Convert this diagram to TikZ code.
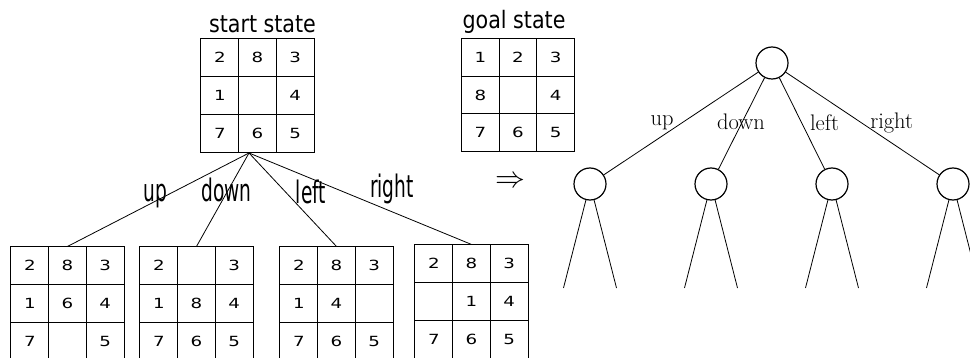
\documentclass[tikz,border=0pt]{standalone}
\usepackage{fontspec}
\usetikzlibrary{matrix}
\newfontfamily\cellfont[FakeStretch=1.3]{DejaVu Sans}
\newfontfamily\titlefont[FakeStretch=0.86]{DejaVu Sans}
\newfontfamily\movefont[FakeStretch=0.6]{DejaVu Sans}

\tikzset{
  puzzle/.style={matrix of nodes, nodes in empty cells,
    inner sep=0pt, outer sep=0pt, column sep=-1pt, row sep=-1pt,
    nodes={draw, line width=1pt, minimum width=37.7pt, minimum height=37.7pt,
      inner sep=0pt, anchor=center, font=\cellfont\fontsize{14pt}{14pt}\selectfont}},
  title/.style={anchor=base, inner sep=0pt, font=\titlefont\fontsize{24pt}{26pt}\selectfont},
  move/.style={anchor=base, inner sep=0pt, font=\movefont\fontsize{31pt}{33pt}\selectfont},
  edge/.style={line width=0.8pt},
  state/.style={circle, draw, line width=1.2pt, minimum size=32pt, inner sep=0pt},
  branch/.style={line width=0.8pt},
  tlabel/.style={anchor=base, inner sep=0pt, font=\fontsize{22.5pt}{26pt}\selectfont}
}

\begin{document}
\begin{tikzpicture}[x=1pt, y=-1pt]
  \useasboundingbox (0,0) rectangle (970,358);
  \clip (0,0) rectangle (970,358);

  % start and goal configurations
  \matrix (start) [puzzle] at (257.5,95.5) {2 & 8 & 3\\ 1 & & 4\\ 7 & 6 & 5\\};
  \matrix (goal)  [puzzle] at (518,95)     {1 & 2 & 3\\ 8 & & 4\\ 7 & 6 & 5\\};
  \node[title] (starttitle) at (262.5,33) {start state};
  \node[title] (goaltitle)  at (514,29)   {goal state};

  % successor configurations
  \matrix (sup)    [puzzle] at (67.5,303.5)  {2 & 8 & 3\\ 1 & 6 & 4\\ 7 & & 5\\};
  \matrix (sdown)  [puzzle] at (196.5,303.5) {2 & & 3\\ 1 & 8 & 4\\ 7 & 6 & 5\\};
  \matrix (sleft)  [puzzle] at (336.5,303.5) {2 & 8 & 3\\ 1 & 4 & \\ 7 & 6 & 5\\};
  \matrix (sright) [puzzle] at (471.5,301.5) {2 & 8 & 3\\ & 1 & 4\\ 7 & 6 & 5\\};

  \coordinate (apex) at (249,153);
  \draw[edge] (apex) -- (sup.north);
  \draw[edge] (apex) -- (sdown.north);
  \draw[edge] (apex) -- (sleft.north);
  \draw[edge] (apex) -- (sright.north);

  \node[move] (lup)    at (155.5,202) {up};
  \node[move] (ldown)  at (226.5,202) {down};
  \node[move] (lleft)  at (311,204)   {left};
  \node[move] (lright) at (392,198)   {right};

  \node[scale=1.2] (implies) at (510,182) {\fontsize{24pt}{26pt}\selectfont$\Rightarrow$};

  % abstract search tree
  \node[state] (root) at (772,63) {};
  \node[state] (c1) at (590,184) {};
  \node[state] (c2) at (711,184) {};
  \node[state] (c3) at (832,184) {};
  \node[state] (c4) at (953,184) {};
  \foreach \c in {c1,c2,c3,c4} \draw[branch] (root) -- (\c);

  \node[tlabel] (tup)    at (662,126)   {up};
  \node[tlabel] (tdown)  at (741,130)   {down};
  \node[tlabel] (tleft)  at (824.5,131) {left};
  \node[tlabel] (tright) at (891.7,129) {right};

  \foreach \c/\x in {c1/590,c2/711,c3/832,c4/953} {
    \coordinate (\c a) at (\x-26.5,288);
    \coordinate (\c b) at (\x+26.5,288);
    \draw[branch] (\c) -- (\c a);
    \draw[branch] (\c) -- (\c b);
  }
\end{tikzpicture}
\end{document}
